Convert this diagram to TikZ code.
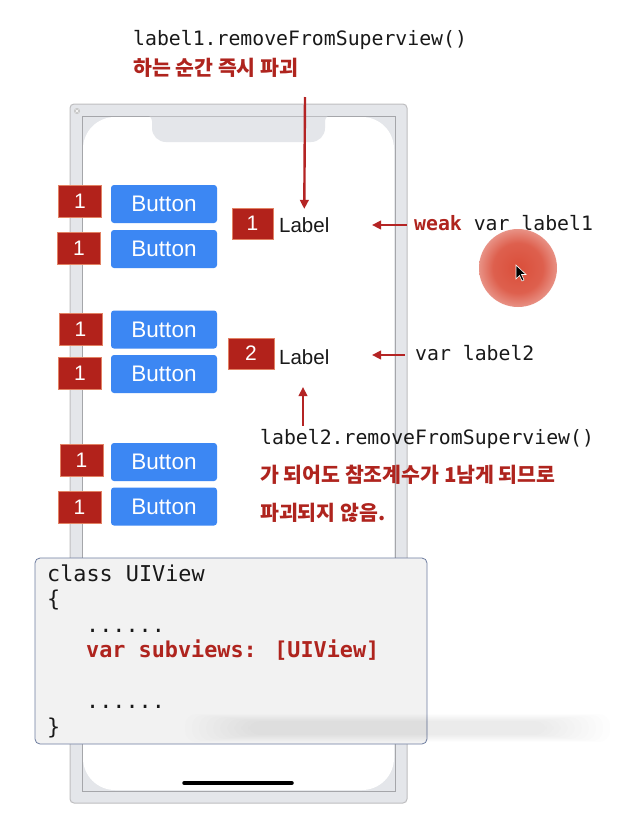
\documentclass[tikz,border=0pt]{standalone}
\usepackage{fontspec}
\setmainfont{Liberation Sans}
\newfontfamily\monof{DejaVu Sans Mono}
\newfontfamily\krf{Noto Sans CJK KR}
\usetikzlibrary{arrows.meta}
\definecolor{badgered}{RGB}{178,34,27}
\definecolor{badgeedge}{RGB}{226,130,100}
\definecolor{btnblue}{RGB}{60,135,243}
\definecolor{redtxt}{RGB}{175,36,30}
\definecolor{redarr}{RGB}{180,36,36}
\definecolor{txtblack}{RGB}{25,25,25}
\definecolor{framegray}{RGB}{228,230,234}
\definecolor{frameedge}{RGB}{190,190,192}
\definecolor{inneredge}{RGB}{165,166,170}
\definecolor{codefill}{RGB}{242,242,242}
\definecolor{codeedge}{RGB}{110,125,160}
\definecolor{spot}{RGB}{218,78,58}
\pgfdeclareradialshading{spotshade}{\pgfpoint{0bp}{0bp}}{color(0bp)=(spot); color(16bp)=(spot!90!white); color(25bp)=(spot!62!white); color(31bp)=(spot!22!white); color(35bp)=(white); color(50bp)=(white)}
\tikzset{
 badge/.style={draw=badgeedge, line width=0.6pt, fill=badgered, text=white, font=\fontsize{21}{21}\selectfont, minimum width=43pt, minimum height=32pt, inner sep=0pt},
 btn/.style={fill=btnblue, rounded corners=3pt, text=white, font=\fontsize{22.5}{22.5}\selectfont, minimum width=106pt, minimum height=38pt, inner sep=0pt},
 lbl/.style={font=\fontsize{20.5}{20.5}\selectfont, anchor=base west, inner sep=0pt, text=txtblack},
 mono/.style={font=\monof\fontsize{19.8}{20}\selectfont, anchor=base west, inner sep=0pt, text=txtblack},
 codetxt/.style={font=\monof\fontsize{21.8}{22}\selectfont, anchor=base west, inner sep=0pt, text=txtblack},
 kr/.style={font=\krf\bfseries\fontsize{20.5}{20.5}\selectfont, anchor=base west, inner sep=0pt, text=redtxt},
 ra/.style={draw=redarr, line width=2.4pt, -{Triangle[length=9pt,width=8.5pt]}},
 codebox/.style={draw=codeedge, line width=0.8pt, fill=codefill, rounded corners=5pt, minimum width=392pt, minimum height=186pt, inner sep=0pt},
}
\begin{document}
\begin{tikzpicture}[x=1pt,y=-1pt]
\useasboundingbox[fill=white] (0,0) rectangle (632,820);
% cursor highlight
\shade[shading=spotshade] (518,268) circle (39pt);
\draw[fill=black, draw=white, line width=0.6pt] (516,265) -- (516,279) -- (519.5,275.5) -- (522,281) -- (524,280) -- (521.5,274.5) -- (526,274.5) -- cycle;
% phone frame
\draw[fill=framegray, draw=frameedge, line width=1pt, rounded corners=4pt] (70,104) rectangle (407,803);
\draw[fill=framegray, draw=inneredge, line width=0.8pt] (82,116) rectangle (395,791);
\fill[white, rounded corners=32pt] (83,117) rectangle (394,790);
\fill[framegray] (150,116.5) [rounded corners=3pt] -- (152,118) [rounded corners=14pt] -- (152,142) -- (325,142) [rounded corners=3pt] -- (325,118) [sharp corners] -- (327,116.5) -- cycle;
\draw[line width=3.5pt, line cap=round] (184,783) -- (292,783);
% close icon
\fill[gray!45] (77,111) circle (3);
\draw[white, line width=0.5pt] (75.6,109.6) -- (78.4,112.4) (75.6,112.4) -- (78.4,109.6);
% buttons and badges
\node[btn] (btn1) at (164,204) {Button};
\node[btn] (btn2) at (164,249) {Button};
\node[btn] (btn3) at (164,329.5) {Button};
\node[btn] (btn4) at (164,374) {Button};
\node[btn] (btn5) at (164,462) {Button};
\node[btn] (btn6) at (164,506.5) {Button};
\node[badge] (b1) at (80,201.5) {1};
\node[badge] (b2) at (79,248.5) {1};
\node[badge] (b3) at (80.5,329) {1};
\node[badge] (b4) at (80,373.5) {1};
\node[badge] (b5) at (81.5,460) {1};
\node[badge] (b6) at (79.5,507) {1};
% labels
\node[badge, minimum width=41pt, minimum height=31pt] (lb1) at (252.5,223.5) {1};
\node[lbl] (lbl1) at (279,232) {Label};
\node[badge, minimum width=46pt, minimum height=31pt] (lb2) at (251,353.5) {2};
\node[lbl] (lbl2) at (279,364) {Label};
% top annotation
\node[mono] (rm1) at (133,45) {label1.removeFromSuperview()};
\node[kr] (kr1) at (133,75) {하는 순간 즉시 파괴};
\coordinate (s1) at (305,97);
\draw[ra] (s1) -- ([yshift=8pt]lbl1.north);
% weak var label1
\node[mono] (wk) at (414,230) {\textcolor{redtxt}{\bfseries weak} var label1};
\coordinate (t2) at (372,225);
\draw[ra] ([xshift=-7pt]wk.west |- t2) -- (t2);
% var label2
\node[mono] (v2) at (415,360) {var label2};
\coordinate (t3) at (372,355);
\draw[ra] ([xshift=-10pt]v2.west |- t3) -- (t3);
% bottom annotation
\node[mono] (rm2) at (260,444) {label2.removeFromSuperview()};
\coordinate (t4) at (303,387);
\draw[ra] ([yshift=3pt]rm2.north -| t4) -- (t4);
\node[kr] (kr2) at (260,482) {가 되어도 참조계수가 1남게 되므로};
\node[kr] (kr3) at (260,520) {파괴되지 않음.};
% code box
\node[codebox] (code) at (231,651) {};
\begin{scope}
\clip (180,700) rectangle (632,760);
\foreach \i in {0,...,9}{
  \fill[black, opacity=0.006, rounded corners=11pt] (185+\i*7,714+\i*0.8) rectangle (610-\i*7,742-\i*0.8);
}
\end{scope}
\node[codetxt] (c1) at (47,581) {class UIView};
\node[codetxt] (c2) at (47,606) {\{};
\node[codetxt] (c3) at (86,632) {......};
\node[codetxt, text=redtxt, font=\monof\bfseries\fontsize{21.8}{22}\selectfont] (c4) at (86,657) {var subviews: [UIView]};
\node[codetxt] (c5) at (86,708) {......};
\node[codetxt] (c6) at (47,734) {\}};
\end{tikzpicture}
\end{document}
